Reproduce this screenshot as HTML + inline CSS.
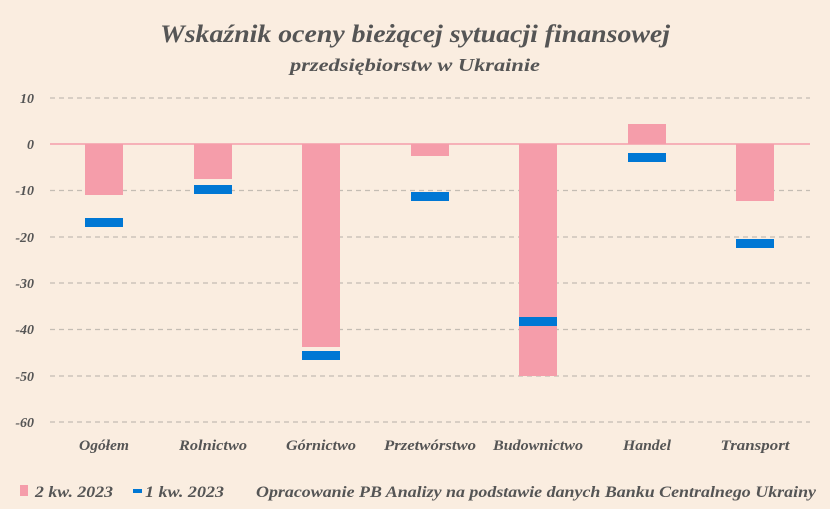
<!DOCTYPE html>
<html><head><meta charset="utf-8"><style>
html,body{margin:0;padding:0;background:#FAEDE0;}
svg{display:block;font-family:"Liberation Serif",serif;font-style:italic;}
</style></head><body>
<svg width="830" height="509" viewBox="0 0 830 509" xmlns="http://www.w3.org/2000/svg">
<rect width="830" height="509" fill="#FAEDE0"/>
<text x="415" y="42" text-anchor="middle" font-size="25" font-weight="bold" fill="#555" textLength="510" lengthAdjust="spacingAndGlyphs">Wskaźnik oceny bieżącej sytuacji finansowej</text>
<text x="415" y="71" text-anchor="middle" font-size="18" font-weight="bold" fill="#555" textLength="250" lengthAdjust="spacingAndGlyphs">przedsiębiorstw w Ukrainie</text>
<g stroke="#c4bdb4" stroke-width="1.3" stroke-dasharray="5,4">
<line x1="50" x2="810" y1="98" y2="98"/>
<line x1="50" x2="810" y1="190.5" y2="190.5"/>
<line x1="50" x2="810" y1="237" y2="237"/>
<line x1="50" x2="810" y1="283" y2="283"/>
<line x1="50" x2="810" y1="329.5" y2="329.5"/>
<line x1="50" x2="810" y1="376" y2="376"/>
<line x1="50" x2="810" y1="422" y2="422"/>
</g>
<g font-size="14" font-weight="bold" fill="#555" text-anchor="end">
<text x="34" y="103">10</text><text x="34" y="149">0</text><text x="34" y="195">-10</text>
<text x="34" y="242">-20</text><text x="34" y="288">-30</text><text x="34" y="334">-40</text>
<text x="34" y="381">-50</text><text x="34" y="427">-60</text>
</g>
<g fill="#F59DAA">
<rect x="85" y="144" width="38" height="51"/>
<rect x="194" y="144" width="38" height="35"/>
<rect x="302" y="144" width="38" height="203"/>
<rect x="411" y="144" width="38" height="12"/>
<rect x="519" y="144" width="38" height="232"/>
<rect x="628" y="124" width="38" height="20"/>
<rect x="736" y="144" width="38" height="57"/>
</g>
<line x1="50" x2="810" y1="144" y2="144" stroke="#F59DAA" stroke-width="1.5"/>
<g fill="#0077D4">
<rect x="85" y="218" width="38" height="9"/>
<rect x="194" y="185" width="38" height="9"/>
<rect x="302" y="351" width="38" height="9"/>
<rect x="411" y="192" width="38" height="9"/>
<rect x="519" y="317" width="38" height="9"/>
<rect x="628" y="153" width="38" height="9"/>
<rect x="736" y="239" width="38" height="9"/>
</g>
<g font-size="15" font-weight="bold" fill="#555" text-anchor="middle">
<text x="104" y="450" textLength="50" lengthAdjust="spacingAndGlyphs">Ogółem</text>
<text x="213" y="450" textLength="68" lengthAdjust="spacingAndGlyphs">Rolnictwo</text>
<text x="321" y="450" textLength="70" lengthAdjust="spacingAndGlyphs">Górnictwo</text>
<text x="430" y="450" textLength="92" lengthAdjust="spacingAndGlyphs">Przetwórstwo</text>
<text x="538" y="450" textLength="90" lengthAdjust="spacingAndGlyphs">Budownictwo</text>
<text x="647" y="450" textLength="48" lengthAdjust="spacingAndGlyphs">Handel</text>
<text x="755" y="450" textLength="69" lengthAdjust="spacingAndGlyphs">Transport</text>
</g>
<rect x="20" y="485" width="8" height="11" fill="#F59DAA"/>
<text x="35" y="497" font-size="16" font-weight="bold" fill="#555" textLength="78" lengthAdjust="spacingAndGlyphs">2 kw. 2023</text>
<rect x="133" y="489" width="9" height="4" fill="#0077D4"/>
<text x="145" y="497" font-size="16" font-weight="bold" fill="#555" textLength="79" lengthAdjust="spacingAndGlyphs">1 kw. 2023</text>
<text x="256" y="497" font-size="16" font-weight="bold" fill="#555" textLength="560" lengthAdjust="spacingAndGlyphs">Opracowanie PB Analizy na podstawie danych Banku Centralnego Ukrainy</text>
</svg>
</body></html>
